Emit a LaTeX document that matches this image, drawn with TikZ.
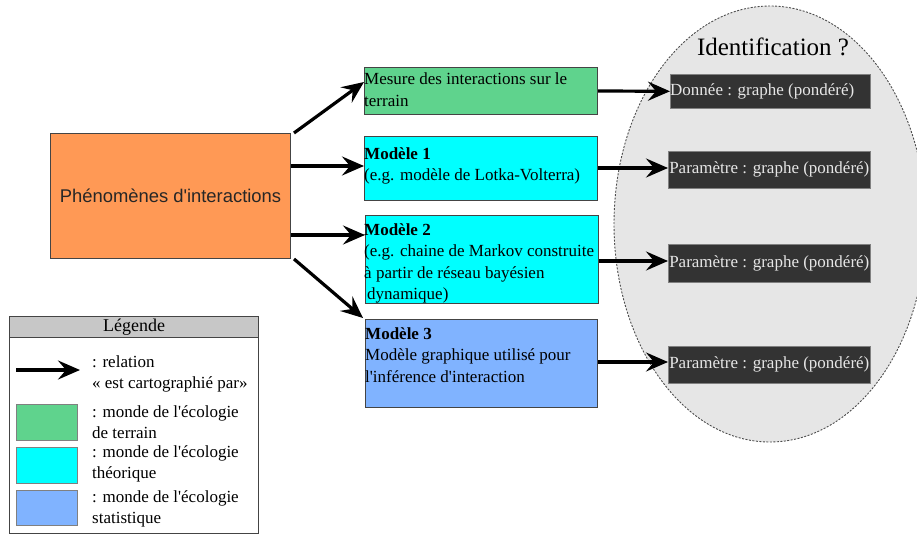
\documentclass[tikz,border=0pt]{standalone}
\usepackage{fontspec}
\setmainfont{Liberation Serif}
\newfontfamily\sansf{Liberation Sans}
\usetikzlibrary{arrows.meta}
\definecolor{orangeb}{HTML}{FF9955}
\definecolor{greenb}{HTML}{5FD38D}
\definecolor{cyanb}{HTML}{00FFFF}
\definecolor{blueb}{HTML}{80B3FF}
\definecolor{darkb}{HTML}{333333}
\definecolor{lightt}{HTML}{E6E6E6}
\definecolor{ellf}{HTML}{E6E6E6}
\definecolor{edge}{HTML}{444444}
\newcommand\apo{\textquotesingle}
\tikzset{
  box/.style={draw=edge, line width=1pt, rectangle, anchor=north west, inner sep=0pt},
  txt/.style={anchor=north west, align=left, inner sep=0pt, font=\fontsize{17}{21.5}\selectfont},
  darkbox/.style={box, fill=darkb, draw=gray, line width=0.6pt},
  darktxt/.style={text=lightt, inner sep=0pt, font=\fontsize{17}{20}\selectfont},
  arr/.style={line width=3.2pt, -{Stealth[length=22pt,width=19pt,inset=8pt]}},
  legtxt/.style={anchor=north west, align=left, inner sep=0pt, font=\fontsize{17}{21}\selectfont},
}
\begin{document}
\begin{tikzpicture}[x=1pt,y=-1pt]
\useasboundingbox (0,0) rectangle (917,534);
% ellipse
\coordinate (ellc) at (770,224);
\draw[draw=black!70, dash pattern=on 2pt off 1.5pt, line width=0.9pt, fill=ellf] (ellc) ellipse [x radius=156, y radius=218];
\node[font=\fontsize{25}{28}\selectfont, anchor=center] (ident) at (773,47) {Identification ?};
% left big box
\node[box, fill=orangeb, minimum width=240, minimum height=125] (phen) at (50,133) {};
\node[font=\sansf\fontsize{18.4}{22}\selectfont, text=black!85] (phent) at (phen.center) {Phénomènes d\apo interactions};
% middle boxes
\node[box, fill=greenb, minimum width=233, minimum height=47] (mes) at (364,67) {};
\node[txt] (mest) at (364,73) {Mesure des interactions sur le\\terrain};
\node[box, fill=cyanb, minimum width=233, minimum height=64] (m1) at (364,136) {};
\node[txt] (m1t) at (364,147) {\textbf{Modèle 1}\\(e.g. modèle de Lotka-Volterra)};
\node[box, fill=cyanb, minimum width=233, minimum height=88] (m2) at (365,215) {};
\node[txt] (m2t) at (364,223) {\textbf{Modèle 2}\\(e.g. chaine de Markov construite\\à partir de réseau bayésien\\\hspace*{3pt}dynamique)};
\node[box, fill=blueb, minimum width=232, minimum height=88] (m3) at (365,319) {};
\node[txt] (m3t) at (365,327) {\textbf{Modèle 3}\\Modèle graphique utilisé pour\\l\apo inférence d\apo interaction};
% dark boxes
\node[darkbox, minimum width=200, minimum height=34] (d0) at (670,74) {};
\node[darktxt, anchor=west] (d0t) at (d0.west) {Donnée : graphe (pondéré)};
\node[darkbox, minimum width=202, minimum height=37] (d1) at (668,151) {};
\node[darktxt] (d1t) at (d1.center) {Paramètre : graphe (pondéré)};
\node[darkbox, minimum width=202, minimum height=38] (d2) at (668,244) {};
\node[darktxt] (d2t) at (d2.center) {Paramètre : graphe (pondéré)};
\node[darkbox, minimum width=202, minimum height=37] (d3) at (668,346) {};
\node[darktxt] (d3t) at (d3.center) {Paramètre : graphe (pondéré)};
% arrows from phen
\draw[arr] (phen.north east) ++(3,0) -- (mes.south west |- 0,82);
\draw[arr] (phen.east |- 0,166) -- (m1.west |- 0,166);
\draw[arr] (phen.east |- 0,235) -- (m2.west |- 0,235);
\draw[arr] (phen.south east) ++(3,0) -- (363,318);
% arrows to dark boxes
\draw[arr] (598,91) -- (d0.west);
\draw[arr] (m1.east |- 0,168) -- (d1.west |- 0,168);
\draw[arr] (m2.east |- 0,261) -- (d2.west |- 0,261);
\draw[arr] (m3.east |- 0,362) -- (d3.west |- 0,362);
% legend
\node[box, fill=white, minimum width=249, minimum height=217] (leg) at (9,316) {};
\node[box, fill=black!22, minimum width=249, minimum height=21] (legh) at (9,316) {};
\node[font=\fontsize{18}{20}\selectfont] (leght) at (legh.center) {Légende};
\coordinate (la0) at (16,370);
\coordinate (la1) at (80,370);
\draw[arr] (la0) -- (la1);
\node[legtxt] (lt0) at (92,356) {: relation\\« est cartographié par»};
\node[box, fill=greenb, draw=gray, minimum width=61, minimum height=36] (lg) at (16,404) {};
\node[legtxt] (lt1) at (92,405) {: monde de l\apo écologie\\de terrain};
\node[box, fill=cyanb, draw=gray, minimum width=61, minimum height=36] (lc) at (16,447) {};
\node[legtxt] (lt2) at (92,445) {: monde de l\apo écologie\\théorique};
\node[box, fill=blueb, draw=gray, minimum width=61, minimum height=35] (lb) at (16,490) {};
\node[legtxt] (lt3) at (92,490) {: monde de l\apo écologie\\statistique};
\end{tikzpicture}
\end{document}
